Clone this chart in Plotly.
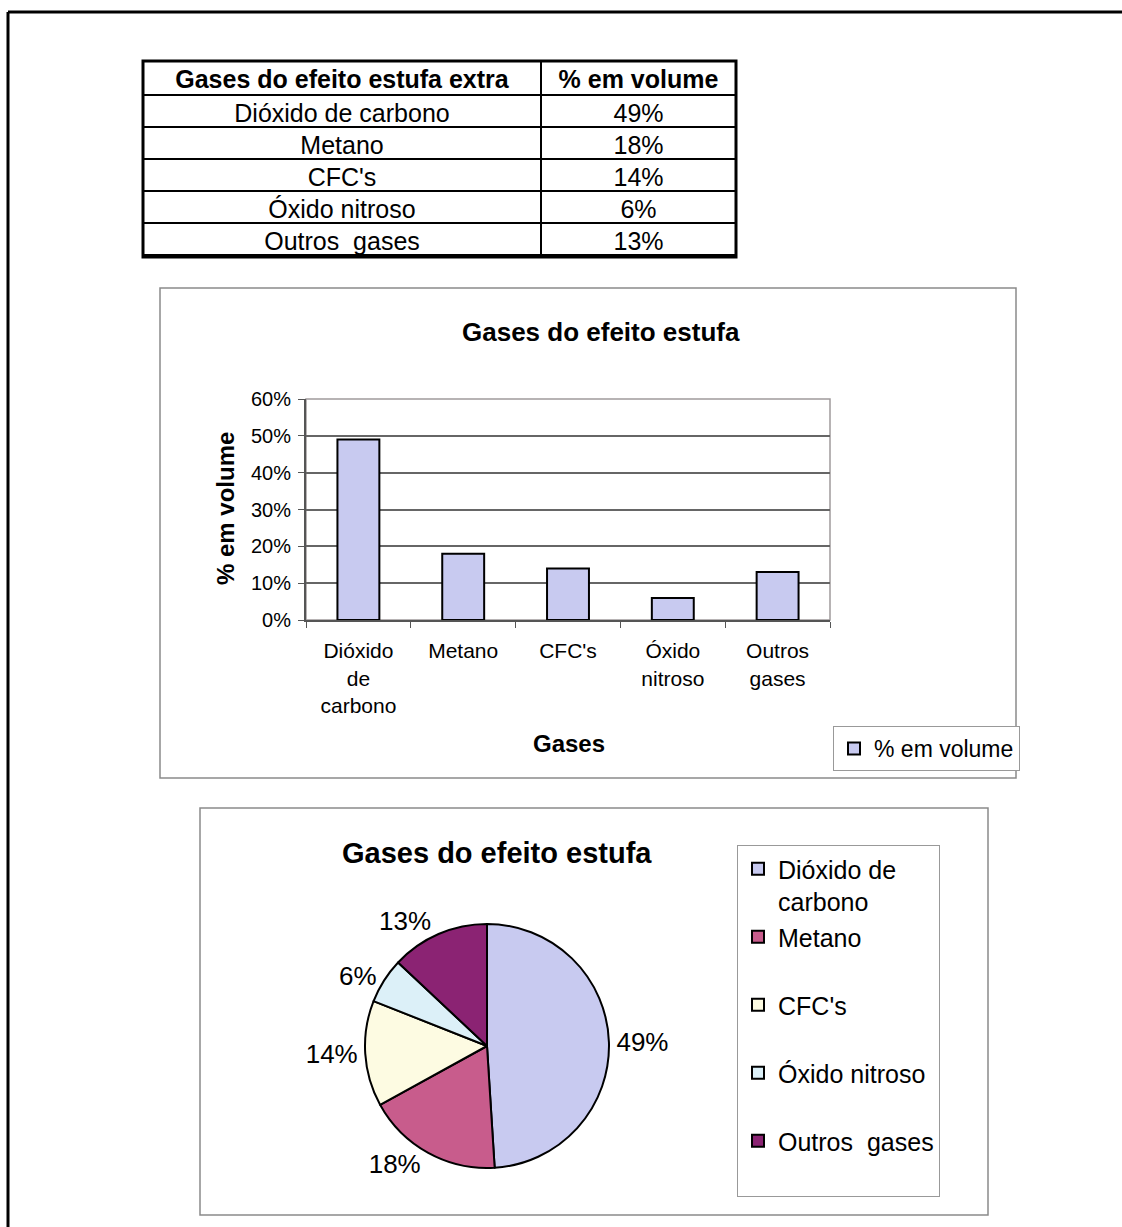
import plotly.graph_objects as go

W, H = 1122, 1227

# ---- data -------------------------------------------------------------
gases = ["Dióxido de carbono", "Metano", "CFC's", "Óxido nitroso", "Outros  gases"]
volume = [49, 18, 14, 6, 13]                       # % em volume
volume_labels = [f"{v}%" for v in volume]
bar_ticklabels = ["Dióxido<br>de<br>carbono", "Metano", "CFC's", "Óxido<br>nitroso", "Outros<br>gases"]
pie_legend_labels = ["Dióxido de<br>carbono", "Metano<br> ", "CFC's<br> ", "Óxido nitroso<br> ", "Outros  gases<br> "]
y_ticks = [0, 10, 20, 30, 40, 50, 60]
y_ticklabels = ["0%", "10%", "20%", "30%", "40%", "50%", "60%"]
colors = ["#c8caf0", "#c85c8c", "#fdfbe2", "#dcf0f8", "#8b2373"]

FONT = "Liberation Sans, Arial, sans-serif"


def px(x):
    return x / W


def py(y):
    return 1 - y / H


fig = go.Figure()

# ---- table ------------------------------------------------------------
fig.add_trace(go.Table(
    domain=dict(x=[px(143), px(736)], y=[py(257), py(61)]),
    columnwidth=[398, 195],
    header=dict(
        values=["Gases do efeito estufa extra", "% em volume"],
        align="center", height=34, fill_color="white",
        line=dict(color="black", width=2),
        font=dict(family=FONT, size=25, color="black", weight="bold"),
    ),
    cells=dict(
        values=[gases, volume_labels],
        align="center", height=32, fill_color="white",
        line=dict(color="black", width=2),
        font=dict(family=FONT, size=25, color="black"),
    ),
))

# ---- bar chart --------------------------------------------------------
fig.add_trace(go.Bar(
    x=gases, y=volume, name="% em volume",
    marker=dict(color=colors[0], line=dict(color="black", width=2)),
    legend="legend", showlegend=True,
))

fig.update_layout(
    bargap=0.6,
    xaxis=dict(
        domain=[px(306), px(830)],
        tickvals=gases, ticktext=bar_ticklabels,
        tickson="boundaries", ticks="outside", ticklen=6, tickcolor="#555",
        showline=True, linecolor="#555", linewidth=2,
        showgrid=False, tickfont=dict(family=FONT, size=21, color="black"),
        ticklabelstandoff=11, fixedrange=True, automargin=False,
    ),
    yaxis=dict(
        domain=[py(620), py(399)],
        range=[0, 60], tickvals=y_ticks, ticktext=y_ticklabels,
        ticks="outside", ticklen=6, tickcolor="#555",
        showline=True, linecolor="#555", linewidth=2,
        showgrid=True, gridcolor="#666", gridwidth=1.5,
        tickfont=dict(family=FONT, size=20, color="black"),
        ticklabelstandoff=3,
        zeroline=False, fixedrange=True, automargin=False,
    ),
)

# ---- pie chart --------------------------------------------------------
fig.add_trace(go.Pie(
    labels=pie_legend_labels, values=volume,
    marker=dict(colors=colors, line=dict(color="black", width=2)),
    sort=False, direction="clockwise", rotation=0,
    textinfo="percent", textposition="outside",
    outsidetextfont=dict(family=FONT, size=26, color="black"),
    domain=dict(x=[px(365), px(609)], y=[py(1168), py(924)]),
    legend="legend2", showlegend=True, automargin=False,
))

# ---- frames and titles ------------------------------------------------
shapes = [
    # page frame
    dict(type="line", xref="paper", yref="paper", x0=px(8), y0=py(12), x1=px(1140), y1=py(12),
         line=dict(color="black", width=3)),
    dict(type="line", xref="paper", yref="paper", x0=px(8), y0=py(12), x1=px(8), y1=py(1240),
         line=dict(color="black", width=3)),
    # table outline
    dict(type="rect", xref="paper", yref="paper", x0=px(143), y0=py(61), x1=px(736), y1=py(257),
         line=dict(color="black", width=3)),
    # chart boxes
    dict(type="rect", xref="paper", yref="paper", x0=px(160), y0=py(288), x1=px(1016), y1=py(778),
         line=dict(color="#8a8a8a", width=1.5)),
    dict(type="rect", xref="paper", yref="paper", x0=px(200), y0=py(808), x1=px(988), y1=py(1215),
         line=dict(color="#8a8a8a", width=1.5)),
    # plot-area border
    dict(type="rect", xref="paper", yref="paper", x0=px(306), y0=py(399), x1=px(830), y1=py(620),
         line=dict(color="#a09a9c", width=1.5), layer="below"),
]


def label(text, x, y, size, angle=0):
    return dict(text=text, x=px(x), y=py(y), xref="paper", yref="paper",
                xanchor="center", yanchor="middle", textangle=angle,
                showarrow=False, font=dict(family=FONT, size=size, color="black"))


annotations = [
    label("<b>Gases do efeito estufa</b>", 601, 332, 26),
    label("<b>% em volume</b>", 225, 509, 24, -90),
    label("<b>Gases</b>", 569, 743, 24),
    label("<b>Gases do efeito estufa</b>", 497, 853, 29),
]

fig.update_layout(
    width=W, height=H,
    margin=dict(l=0, r=0, t=0, b=0, pad=0, autoexpand=False),
    paper_bgcolor="white", plot_bgcolor="white",
    font=dict(family=FONT, color="black"),
    shapes=shapes, annotations=annotations,
    legend=dict(
        x=px(833), y=py(726), xanchor="left", yanchor="top",
        bordercolor="#999", borderwidth=1, bgcolor="white",
        font=dict(family=FONT, size=23, color="black"),
    ),
    legend2=dict(
        x=px(737), y=py(845), xanchor="left", yanchor="top",
        bordercolor="#999", borderwidth=1, bgcolor="white", valign="top",
        font=dict(family=FONT, size=25, color="black"),
    ),
)

fig.write_html("out.html")
